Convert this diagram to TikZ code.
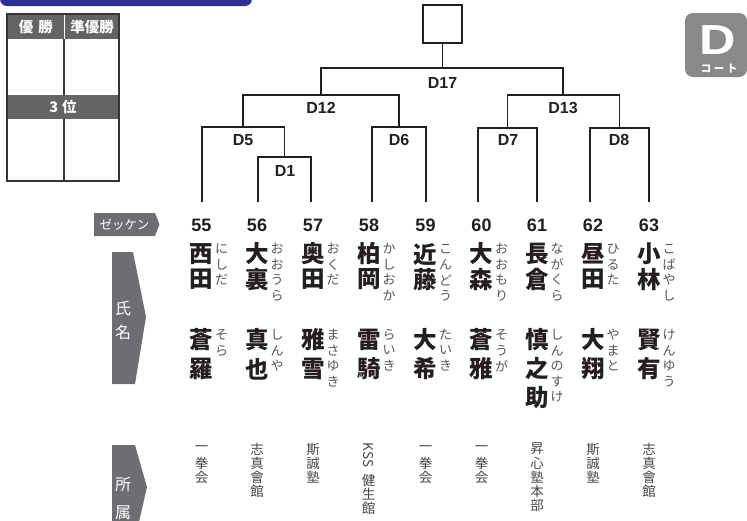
\documentclass[tikz,border=0pt]{standalone}
\usepackage{fontspec}
\usepackage{graphicx}
\setmainfont{Liberation Sans}
\newfontfamily\jp{Noto Sans CJK JP}
\definecolor{barblue}{RGB}{46,49,146}
\definecolor{lineblk}{RGB}{35,31,32}
\definecolor{taggray}{RGB}{109,110,113}
\definecolor{hdrgray}{RGB}{100,100,102}
\definecolor{badgegray}{RGB}{137,137,137}
\definecolor{kanagray}{RGB}{85,85,85}
\definecolor{affgray}{RGB}{70,70,70}
\newcount\vcnt
\newcommand\vcol[6]{\global\vcnt=0 \def\vname{#1}\def\vx{#2}\def\vy{#3}\def\vp{#4}\tikzset{vcur/.style={#5}}\vcolloop#6\relax}
\def\vcolloop#1{\ifx#1\relax\else\global\advance\vcnt by 1 \node[vcur] (\vname-\the\vcnt) at (\vx,{\vy+(\the\vcnt-1)*\vp}) {#1};\expandafter\vcolloop\fi}
\newcommand\player[8]{%
  \node[numst] (n#1) at (#2,225.5) {#3};
  \vcol{f#1}{#2}{254}{25.5}{kanji}{#4}%
  \vcol{fr#1}{#2+20}{249}{15.5}{kana}{#5}%
  \vcol{g#1}{#2}{340}{29}{kanji}{#6}%
  \vcol{gr#1}{#2+20}{335}{15.5}{kana}{#7}%
  \vcol{a#1}{#2}{449}{14}{aff}{#8}}
\tikzset{
  br/.style={line width=1.5pt, draw=lineblk},
  dlab/.style={font=\fontsize{16}{16}\selectfont\bfseries, text=lineblk, inner sep=0pt},
  numst/.style={font=\fontsize{18}{18}\selectfont\bfseries, text=lineblk, inner sep=0pt},
  kanji/.style={font=\jp\bfseries\fontsize{23.5}{23.5}\selectfont, text=lineblk, inner sep=0pt},
  kana/.style={font=\jp\fontsize{13}{13}\selectfont, text=kanagray, inner sep=0pt},
  aff/.style={font=\jp\fontsize{13.5}{13.5}\selectfont, text=affgray, inner sep=0pt},
  tagtxt/.style={font=\jp\fontsize{16}{16}\selectfont, text=white, inner sep=0pt},
  hdrtxt/.style={font=\jp\bfseries\fontsize{14.5}{14.5}\selectfont, text=white, inner sep=0pt},
}
\begin{document}
\begin{tikzpicture}[x=1pt,y=-1pt]
\useasboundingbox (0,0) rectangle (747,520);
\begin{scope}
\clip (0,0) rectangle (747,520);
% top bar
\fill[barblue, rounded corners=7pt] (0,-12) rectangle (252,6);
% tags
\fill[taggray] (94,213) -- (155,213) -- (159.5,224.5) -- (155,236) -- (94,236) -- cycle;
\fill[taggray] (112,252) -- (133,252) -- (146,317) -- (135,384) -- (112,384) -- cycle;
\fill[taggray] (112,445) -- (135,445) -- (147,487) -- (136,535) -- (112,535) -- cycle;
\end{scope}
\node[tagtxt, font=\jp\fontsize{12.5}{12.5}\selectfont] (zk) at (124.5,224.5) {ゼッケン};
\node[tagtxt] (sh1) at (123,308) {氏};
\node[tagtxt] (sh2) at (123,332) {名};
\node[tagtxt] (sz1) at (123,485) {所};
\node[tagtxt] (sz2) at (123,513) {属};
% results table
\fill[hdrgray] (7,14) rectangle (119,39);
\fill[hdrgray] (7,95) rectangle (119,119);
\draw[white, line width=1pt] (64,14) -- (64,39);
\draw[line width=1.4pt, draw=lineblk!90] (64,39) -- (64,95) (64,119) -- (64,181);
\draw[line width=1.4pt, draw=lineblk!90] (7,14) rectangle (119,181);
\node[hdrtxt] (t1) at (36,27) {優\hspace{5pt}勝};
\node[hdrtxt] (t2) at (92,27) {準優勝};
\node[hdrtxt] (t3) at (63,107) {3\hspace{4pt}位};
% court badge
\fill[badgegray, rounded corners=8pt] (685,13) rectangle (747,77);
\node[font=\fontsize{42}{42}\selectfont\bfseries, text=white, inner sep=0pt] (dbig) at (718,40) {\scalebox{1.2}[1]{D}};
\node[font=\jp\bfseries\fontsize{10.5}{10.5}\selectfont, text=white, inner sep=0pt] (court) at (719,69) {コ\hspace{2.5pt}ー\hspace{2.5pt}ト};
% bracket
\node[draw=lineblk, line width=1.5pt, minimum width=39pt, minimum height=38pt, inner sep=0pt] (champ) at (442.5,24) {};
\coordinate (p55) at (202,202);
\coordinate (p56) at (258,202);
\coordinate (p57) at (311,202);
\coordinate (p58) at (372,202);
\coordinate (p59) at (426,202);
\coordinate (p60) at (478,202);
\coordinate (p61) at (537,202);
\coordinate (p62) at (590,202);
\coordinate (p63) at (649,202);
\coordinate (m1) at (284.5,157);
\coordinate (m5) at (243,127);
\coordinate (m6) at (399,127);
\coordinate (m7) at (507.5,128);
\coordinate (m8) at (619.5,128);
\coordinate (m12) at (321,95);
\coordinate (m13) at (563,95);
\coordinate (m17) at (442.5,68);
\draw[br] (p56) |- (m1) -| (p57);
\draw[br] (p55) |- (m5) -| (m1);
\draw[br] (p58) |- (m6) -| (p59);
\draw[br] (p60) |- (m7) -| (p61);
\draw[br] (p62) |- (m8) -| (p63);
\draw[br] (m5) |- (m12) -| (m6);
\draw[br] (m7) |- (m13) -| (m8);
\draw[br] (m12) |- (m17) -| (m13);
\draw[br] (m17) -- (champ.south);
\node[dlab] (l17) at (442.5,83) {D17};
\node[dlab] (l12) at (321,107.5) {D12};
\node[dlab] (l13) at (563,107.5) {D13};
\node[dlab] (l5) at (243,140) {D5};
\node[dlab] (l6) at (399,140) {D6};
\node[dlab] (l7) at (508,140) {D7};
\node[dlab] (l8) at (619,140) {D8};
\node[dlab] (l1) at (285,170.5) {D1};
% players
\player{55}{201.5}{55}{西田}{にしだ}{蒼羅}{そら}{一拳会}
\player{56}{257}{56}{大裏}{おおうら}{真也}{しんや}{志真會館}
\player{57}{313}{57}{奥田}{おくだ}{雅雪}{まさゆき}{斯誠塾}
\player{58}{369}{58}{柏岡}{かしおか}{雷騎}{らいき}{}
\player{59}{425.5}{59}{近藤}{こんどう}{大希}{たいき}{一拳会}
\player{60}{481.5}{60}{大森}{おおもり}{蒼雅}{そうが}{一拳会}
\player{61}{537}{61}{長倉}{ながくら}{慎之助}{しんのすけ}{昇心塾本部}
\player{62}{593}{62}{昼田}{ひるた}{大翔}{やまと}{斯誠塾}
\player{63}{649}{63}{小林}{こばやし}{賢有}{けんゆう}{志真會館}
\node[aff, rotate=-90, font=\jp\fontsize{13.5}{13.5}\selectfont] (a58-k) at (368.5,455) {KSS};
\vcol{a58b}{368.5}{480}{14}{aff}{健生館}
\end{tikzpicture}
\end{document}
